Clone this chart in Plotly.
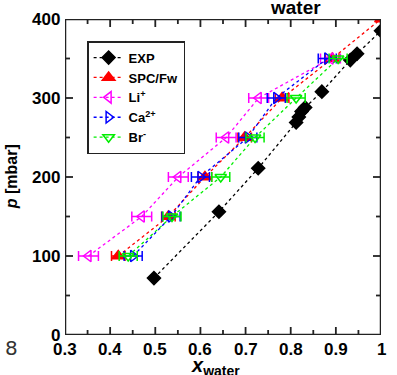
import plotly.graph_objects as go

# ---- data ----
exp_x = [0.497, 0.641, 0.728, 0.812, 0.818, 0.824, 0.832, 0.869, 0.932, 0.947, 1.0]
exp_p = [72, 156, 211, 269, 276, 283, 288, 308, 348, 356, 385]

p_levels = [100, 150, 200, 250, 300, 350]

spc_x = [0.418, 0.529, 0.610, 0.698, 0.781, 0.892, 1.0]
spc_p = [100, 150, 200, 250, 300, 350, 400]
spc_err = [0.015, 0.015, 0.015, 0.015, 0.015, 0.015, 0.0]

li_x = [0.352, 0.470, 0.551, 0.657, 0.729, 0.888]
li_err = [0.022, 0.022, 0.022, 0.022, 0.022, 0.022]

ca_x = [0.451, 0.535, 0.600, 0.705, 0.768, 0.881]
ca_err = [0.02, 0.02, 0.02, 0.02, 0.02, 0.02]

br_x = [0.440, 0.537, 0.645, 0.721, 0.812, 0.905]
br_err = [0.02, 0.02, 0.02, 0.02, 0.02, 0.02]

x_ticks = [0.3, 0.4, 0.5, 0.6, 0.7, 0.8, 0.9, 1.0]
x_labels = ["0.3", "0.4", "0.5", "0.6", "0.7", "0.8", "0.9", "1"]
x_minor = [0.35, 0.45, 0.55, 0.65, 0.75, 0.85, 0.95]
y_ticks = [0, 100, 200, 300, 400]
y_labels = ["0", "100", "200", "300", "400"]
y_minor = [50, 150, 250, 350]

X0, X1, Y0, Y1 = 0.3, 1.0, 0, 400
PX_X = (X1 - X0) / 316.0   # data units per pixel
PX_Y = (Y1 - Y0) / 316.0

fig = go.Figure()

def add(name, xs, ys, errs, color, symbol, size):
    kw = {}
    if errs is not None:
        kw["error_x"] = dict(type="data", array=errs, color=color, thickness=1.5, width=5)
    fig.add_trace(go.Scatter(
        x=xs, y=ys, name=name, mode="lines+markers",
        line=dict(color=color, width=1.3, dash="dot"),
        marker=dict(color=color, symbol=symbol, size=size,
                    line=dict(color=color, width=1.5)),
        **kw))

add("<b>EXP</b>", exp_x, exp_p, None, "black", "diamond", 10)
add("<b>SPC/Fw</b>", spc_x, spc_p, spc_err, "#ff0000", "triangle-up", 11)
add("<b>Li<sup>+</sup></b>", li_x, p_levels, li_err, "#ff00ff", "triangle-left-open", 10)
add("<b>Ca<sup>2+</sup></b>", ca_x, p_levels, ca_err, "#0000ff", "triangle-right-open", 10)
add("<b>Br<sup>-</sup></b>", br_x, p_levels, br_err, "#00ee00", "triangle-down-open", 10)

font = "Liberation Sans, Arial, sans-serif"
tickc = "#222222"

# frame and ticks drawn as a line trace in axis coordinates
fx, fy = [X0, X1, X1, X0, X0], [Y0, Y0, Y1, Y1, Y0]
tx, ty = [], []
for xv, ln in [(v, 8) for v in x_ticks] + [(v, 5) for v in x_minor]:
    tx += [xv, xv, None, xv, xv, None]
    ty += [Y0, Y0 + ln * PX_Y, None, Y1, Y1 - ln * PX_Y, None]
for yv, ln in [(v, 8) for v in y_ticks] + [(v, 5) for v in y_minor]:
    tx += [X0, X0 + ln * PX_X, None, X1, X1 - ln * PX_X, None]
    ty += [yv, yv, None, yv, yv, None]
fig.add_trace(go.Scatter(x=fx, y=fy, mode="lines", line=dict(color=tickc, width=2.5),
                         showlegend=False, hoverinfo="skip", cliponaxis=False))
fig.add_trace(go.Scatter(x=tx, y=ty, mode="lines", line=dict(color=tickc, width=1.8),
                         showlegend=False, hoverinfo="skip", cliponaxis=False,
                         connectgaps=False))

fig.update_xaxes(range=[X0, X1], showline=False, showgrid=False, zeroline=False,
                 showticklabels=False, ticks="", automargin=False)
fig.update_yaxes(range=[Y0, Y1], showline=False, showgrid=False, zeroline=False,
                 showticklabels=False, ticks="", automargin=False)

annotations = []
for xv, lab in zip(x_ticks, x_labels):
    annotations.append(dict(text="<b>%s</b>" % lab, xref="x", yref="paper", x=xv, y=0,
                            yshift=-3, xanchor="center", yanchor="top", showarrow=False,
                            font=dict(family=font, size=17, color="black")))
for yv, lab in zip(y_ticks, y_labels):
    annotations.append(dict(text="<b>%s</b>" % lab, xref="paper", yref="y", x=0, y=yv,
                            xshift=-3, xanchor="right", yanchor="middle", showarrow=False,
                            font=dict(family=font, size=17, color="black")))
annotations += [
    dict(text="<b>water</b>", xref="paper", yref="paper", x=0.73, y=1.0,
         yshift=12, xanchor="center", yanchor="middle", showarrow=False,
         font=dict(family=font, size=19, color="black")),
    dict(text="8", xref="paper", yref="paper", x=-0.17, y=-0.04,
         xanchor="center", yanchor="middle", showarrow=False,
         font=dict(family="DejaVu Sans, sans-serif", size=20, color="#333333")),
    dict(text="<b><i>x</i></b><b><sub>water</sub></b>", xref="paper", yref="paper",
         x=0.475, y=-0.055, xanchor="center", yanchor="top", showarrow=False,
         font=dict(family=font, size=20, color="black")),
    dict(text="<b><i>p</i> [mbar]</b>", xref="paper", yref="paper",
         x=-0.17, y=0.5, xanchor="center", yanchor="middle", textangle=-90,
         showarrow=False, font=dict(family=font, size=16, color="black")),
]

fig.update_layout(
    width=397, height=375,
    margin=dict(l=65, r=16, t=19, b=40, autoexpand=False),
    paper_bgcolor="white", plot_bgcolor="white",
    showlegend=True,
    legend=dict(x=0.07, y=0.93, xanchor="left", yanchor="top",
                bgcolor="white", bordercolor=tickc, borderwidth=1.5,
                font=dict(family=font, size=13, color="black"),
                tracegroupgap=0, itemwidth=30),
    annotations=annotations,
)

fig.write_html("out.html", config={"displayModeBar": False},
               post_script="document.body.style.margin='0';document.body.style.padding='0';")
